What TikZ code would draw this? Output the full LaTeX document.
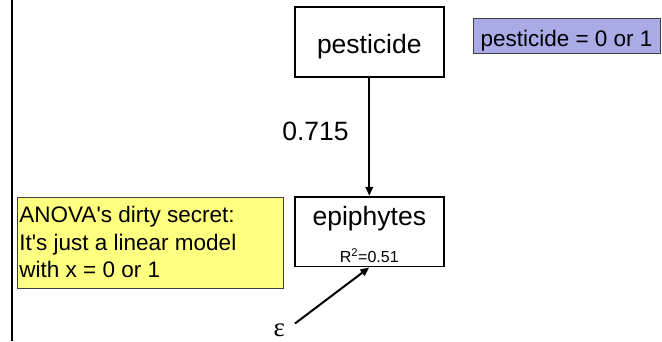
\documentclass[tikz,border=0pt]{standalone}
\usepackage{fontspec}
\setmainfont{Liberation Sans}
\newfontfamily\greekserif{Liberation Serif}
\usetikzlibrary{arrows.meta}

\definecolor{notefill}{RGB}{255,255,128}
\definecolor{codefill}{RGB}{170,170,230}

\begin{document}
\begin{tikzpicture}[x=1pt, y=-1pt,
  varbox/.style={draw=black, line width=1.8pt, fill=white,
    minimum width=149pt, inner xsep=0pt, inner ysep=0pt,
    font=\fontsize{26.5}{30}\selectfont},
  notebox/.style={draw=black!75, line width=0.8pt, inner ysep=0pt},
  pathline/.style={line width=2pt, -{Triangle[length=9pt,width=7.5pt]}},
  coef/.style={font=\fontsize{26.5}{30}\selectfont, inner sep=0pt},
]
\useasboundingbox (0,0) rectangle (662,341);

% margin rule on the left
\coordinate (railtop) at (12.2,0);
\coordinate (railbot) at (12.2,341);
\draw[line width=2.2pt] (railtop) -- (railbot);

% the two variables
\node[varbox, anchor=base, text height=46.2pt, text depth=23.8pt]
  (pest) at (369.3,53.5) {pesticide};
\node[varbox, anchor=base, text height=28.3pt, text depth=41.5pt]
  (epi) at (369.3,225) {epiphytes};
\node[anchor=base, inner sep=0pt, font=\fontsize{16}{18}\selectfont]
  (rsq) at (369.3,262.7) {R\textsuperscript{2}=0.51};

% coding of the predictor
\node[notebox, fill=codefill, anchor=base west, minimum width=186.8pt,
  text height=28.4pt, text depth=6.6pt, font=\fontsize{22.5}{26}\selectfont]
  (code) at (472.7,46.7) {pesticide = 0 or 1};

% remark (straight apostrophes)
\node[notebox, fill=notefill, anchor=base west, inner xsep=2pt,
  text height=24.6pt, text depth=66.4pt]
  (anova) at (17,222.3)
  {\parbox[t]{261.5pt}{\fontsize{22.5}{27.7}\selectfont
    ANOVA\textquotesingle s dirty secret:\\
    It\textquotesingle s just a linear model\\
    with x = 0 or 1}};

% path coefficient and error term
\node[coef, anchor=base] (wt) at (315.5,140.7) {0.715};
\draw[pathline] (pest) -- (epi);

\node[anchor=base, inner sep=0pt, font=\greekserif\fontsize{27}{29}\selectfont]
  (eps) at (279.3,336.5) {ε};
\coordinate (epstail) at (295,323.5);
\draw[pathline] (epstail) -- (epi.south);
\end{tikzpicture}
\end{document}
